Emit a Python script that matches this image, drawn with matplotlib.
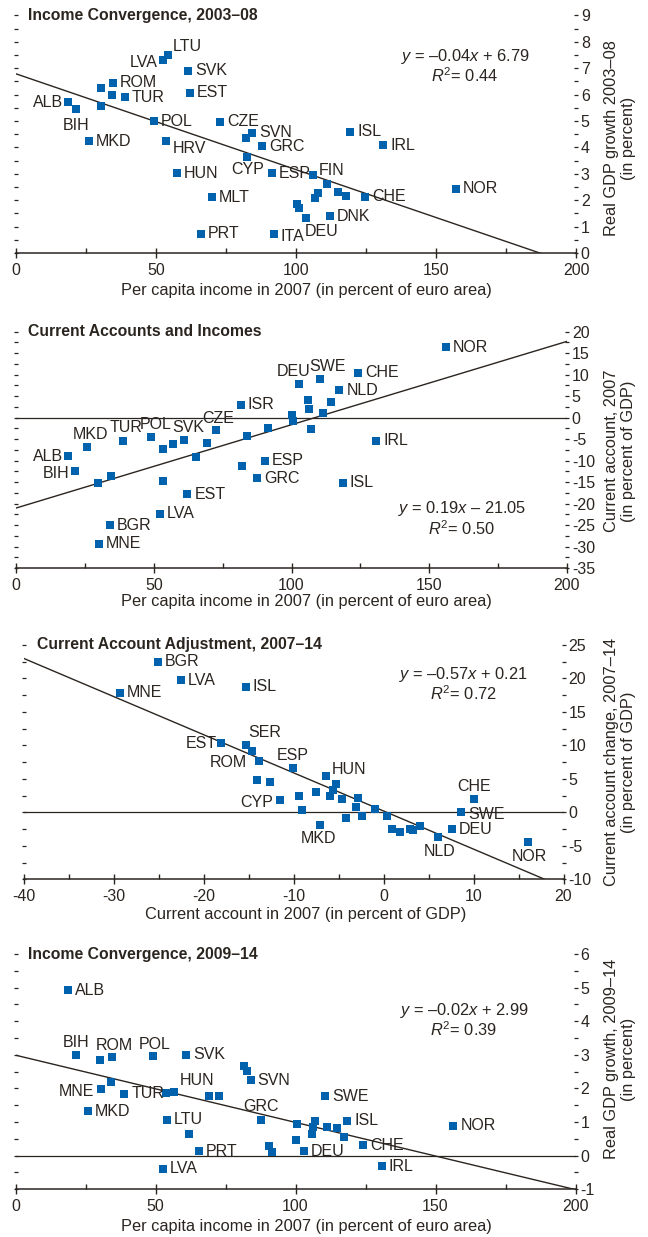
import matplotlib
matplotlib.use('Agg')
import matplotlib.pyplot as plt
from matplotlib.ticker import MultipleLocator
import numpy as np


# Fonts and colours
plt.rcParams['font.family'] = ['Liberation Sans', 'DejaVu Sans']
plt.rcParams['mathtext.fontset'] = 'custom'
plt.rcParams['mathtext.rm'] = 'Liberation Sans'
plt.rcParams['mathtext.it'] = 'Liberation Sans:italic'
plt.rcParams['axes.unicode_minus'] = False

ink = '#2b2520'
blue = '#0062ac'
W, H = 648, 1237
fs_lab = 11.5    # country labels
fs_tick = 11.5
fs_text = 11.8   # axis titles and fit equations
fs_title = 11.3


# Income convergence, 2003-08
ic1_x = [52.5, 54.3, 61.4, 34.6, 30.2, 34.2, 38.9, 62.1, 18.6, 21.4, 30.2, 49.2, 72.9,
         84.3, 82.1, 88.0, 26.1, 53.5, 82.4, 57.4, 91.3, 106.2, 70.0, 66.0, 92.1,
         100.4, 101.0, 103.6, 111.0, 108.0, 106.8, 115.1, 117.9, 124.6, 112.1,
         119.3, 131.2, 157.1]
ic1_y = [7.30, 7.50, 6.90, 6.45, 6.26, 6.00, 5.90, 6.07, 5.73, 5.45, 5.57, 5.00, 4.97,
         4.55, 4.35, 4.05, 4.24, 4.24, 3.64, 3.03, 3.03, 2.96, 2.12, 0.72, 0.72,
         1.85, 1.70, 1.34, 2.60, 2.28, 2.07, 2.32, 2.16, 2.13, 1.40,
         4.60, 4.09, 2.44]
ic1_lab = ['LVA', 'LTU', 'SVK', 'ROM', '', '', 'TUR', 'EST', 'ALB', 'BIH', '', 'POL', 'CZE',
           'SVN', '', 'GRC', 'MKD', 'HRV', 'CYP', 'HUN', 'ESP', 'FIN', 'MLT', 'PRT', 'ITA',
           '', '', 'DEU', '', '', '', '', '', 'CHE', 'DNK',
           'ISL', 'IRL', 'NOR']
ic1_fit = (-0.0363, 6.79, 0.44)

# Current accounts and incomes, 2007
ca_x = [102.7, 110.3, 106.1, 106.5, 114.2, 81.6, 100.1, 100.4, 111.3, 107.0, 91.6, 83.7,
        72.6, 69.2, 65.2, 61.0, 56.9, 53.2, 49.0, 38.7, 25.6, 18.8, 21.4, 29.9, 34.4,
        53.5, 81.9, 90.4, 87.4, 62.2, 52.3, 34.1, 30.2, 156.1, 124.3, 117.4, 130.7, 118.6]
ca_y = [7.8, 9.0, 4.1, 2.0, 3.6, 3.0, 0.7, -0.9, 1.1, -2.7, -2.3, -4.2,
        -2.9, -6.0, -9.2, -5.2, -6.1, -7.3, -4.6, -5.5, -6.9, -9.0, -12.5, -15.2, -13.7,
        -14.7, -11.2, -10.0, -14.1, -17.8, -22.4, -25.1, -29.3, 16.4, 10.4, 6.4, -5.4, -15.2]
ca_lab = ['DEU', 'SWE', '', '', '', 'ISR', '', '', '', '', '', '',
          'CZE', '', '', 'SVK', '', '', 'POL', 'TUR', 'MKD', 'ALB', 'BIH', '', '',
          '', '', 'ESP', 'GRC', 'EST', 'LVA', 'BGR', 'MNE', 'NOR', 'CHE', 'NLD', 'IRL', 'ISL']
ca_fit = (0.194, -21.05, 0.50)

# Current account adjustment, 2007-14
adj_x = [-25.1, -22.5, -15.3, -29.3, -18.1, -15.3, -14.6, -13.8, -10.1, -14.1, -12.6,
         -11.5, -9.4, -9.1, -7.5, -7.1, -6.4, -5.3, -5.6, -6.0, -4.6, -2.8, -3.1, -4.2,
         -2.4, -0.9, 0.4, 0.9, 1.8, 2.9, 3.3, 4.1, 6.1, 7.6, 8.6, 10.1, 16.0]
adj_y = [22.5, 19.7, 18.8, 17.9, 10.4, 10.1, 9.1, 7.6, 6.6, 4.9, 4.5,
         1.8, 2.5, 0.3, 3.1, -1.9, 5.5, 4.3, 3.4, 2.4, 2.0, 2.2, 0.8, -0.9,
         -0.6, 0.5, -0.5, -2.5, -2.9, -2.5, -2.7, -2.0, -3.7, -2.5, 0.1, 2.0, -4.4]
adj_lab = ['BGR', 'LVA', 'ISL', 'MNE', 'EST', 'SER', '', 'ROM', 'ESP', '', '',
           'CYP', '', '', '', 'MKD', 'HUN', '', '', '', '', '', '', '',
           '', '', '', '', '', '', '', '', 'NLD', 'DEU', 'SWE', 'CHE', 'NOR']
adj_fit = (-0.57, 0.21, 0.72)

# Income convergence, 2009-14
ic2_x = [18.9, 21.6, 30.2, 34.4, 49.0, 60.9, 34.1, 30.4, 38.8, 25.8, 53.6, 56.7, 69.2,
         72.8, 81.7, 82.6, 84.0, 54.0, 62.0, 65.5, 52.6, 87.6, 90.6, 91.7, 100.4, 100.1,
         103.0, 107.0, 106.1, 105.8, 110.5, 111.4, 114.7, 118.5, 117.3, 124.2, 130.8, 156.4]
ic2_y = [4.92, 3.00, 2.84, 2.94, 2.98, 3.00, 2.18, 1.98, 1.84, 1.32, 1.85, 1.90, 1.77,
         1.77, 2.66, 2.51, 2.24, 1.07, 0.65, 0.13, -0.39, 1.05, 0.30, 0.11, 0.93, 0.46,
         0.13, 1.03, 0.85, 0.66, 1.77, 0.85, 0.82, 1.04, 0.56, 0.31, -0.32, 0.89]
ic2_lab = ['ALB', 'BIH', '', 'ROM', 'POL', 'SVK', '', 'MNE', 'TUR', 'MKD', '', 'HUN', '',
           '', '', '', 'SVN', 'LTU', '', 'PRT', 'LVA', 'GRC', '', '', '', '',
           'DEU', '', '', '', 'SWE', '', '', 'ISL', '', 'CHE', 'IRL', 'NOR']
ic2_fit = (-0.02, 2.99, 0.39)


# Label placement: (dx px, dy px downward, ha); anything missing goes to the right
off_ic1 = {'LTU': (5, -9, 'left'), 'LVA': (-5, 2, 'right'), 'ALB': (-5, 1, 'right'),
           'BIH': (0, 16, 'center'), 'HRV': (7, 7, 'left'), 'CYP': (1, 13, 'center'),
           'FIN': (5, -4, 'left'), 'ITA': (7, 3, 'left'), 'DEU': (-1, 14, 'left')}
off_ca = {'DEU': (-5, -13, 'center'), 'SWE': (8, -12, 'center'), 'CZE': (2, -12, 'center'),
          'SVK': (4, -12, 'center'), 'POL': (5, -13, 'center'), 'TUR': (3, -14, 'center'),
          'MKD': (4, -13, 'center'), 'ALB': (-5, 0, 'right'), 'BIH': (-6, 2, 'right')}
off_adj = {'EST': (-4, 1, 'right'), 'SER': (2, -12, 'left'), 'ROM': (-12, 1, 'right'),
           'ESP': (0, -13, 'center'), 'CYP': (-7, 2, 'right'), 'MKD': (-1, 13, 'center'),
           'HUN': (6, -6, 'left'), 'CHE': (0, -12, 'center'), 'SWE': (7, 3, 'left'),
           'NLD': (1, 14, 'center'), 'NOR': (2, 15, 'center')}
off_ic2 = {'BIH': (0, -12, 'center'), 'ROM': (3, -11, 'center'), 'POL': (2, -11, 'center'),
           'MNE': (-6, 2, 'right'), 'HUN': (5, -11, 'left'), 'GRC': (0, -14, 'center')}


def fmt_fit(slope, icpt):
    s = f'{slope:.2f}'.replace('-', '–')
    sign = '+' if icpt >= 0 else '–'
    return r'$\mathit{y}$ = ' + s + r'$\mathit{x}$ ' + f'{sign} {abs(icpt):.2f}'


def panel(box, xs, ys, labs, offs, fit, xlim, ylim, xstep, ystep,
          title, title_x, xlabel, xlabel_xy, ylabel, ylabel_xy, eq_xy, zero_line):
    l, r, t, b = box
    ax = fig.add_axes([l / W, 1 - b / H, (r - l) / W, (b - t) / H])
    ax.set_xlim(*xlim)
    ax.set_ylim(*ylim)
    for side in ['top', 'left', 'right']:
        ax.spines[side].set_visible(False)
    ax.spines['bottom'].set_color(ink)
    ax.spines['bottom'].set_linewidth(1.1)

    ax.xaxis.set_major_locator(MultipleLocator(xstep))
    ax.xaxis.set_minor_locator(MultipleLocator(xstep / 2))
    ax.yaxis.set_major_locator(MultipleLocator(ystep))
    ax.yaxis.set_minor_locator(MultipleLocator(ystep / 2))
    ax.tick_params(axis='x', which='major', direction='inout', length=7, width=1,
                   color=ink, labelcolor=ink, labelsize=fs_tick, pad=3.5)
    ax.tick_params(axis='x', which='minor', direction='in', length=3.5, width=1, color=ink)
    ax.tick_params(axis='y', which='both', direction='inout', length=3, width=0.9,
                   color=ink, left=True, right=True, labelleft=False, labelright=True)
    ax.tick_params(axis='y', which='major', labelcolor=ink, labelsize=fs_tick, pad=2)

    if zero_line:
        ax.axhline(0, color=ink, lw=0.9, zorder=1)
    slope, icpt, r2 = fit
    fx = np.array(xlim, dtype=float)
    ax.plot(fx, icpt + slope * fx, color=ink, lw=1.0, zorder=2)
    ax.scatter(xs, ys, marker='s', s=38, color=blue, linewidths=0, zorder=3)

    for x, y, lab in zip(xs, ys, labs):
        if not lab:
            continue
        dx, dy, ha = offs.get(lab, (7, 0, 'left'))
        ax.annotate(lab, (x, y), xytext=(dx, -dy), textcoords='offset pixels',
                    ha=ha, va='center', fontsize=fs_lab, color=ink, zorder=4)

    ax.text((title_x - l) / (r - l), 1.0, title, transform=ax.transAxes, ha='left',
            va='center', fontsize=fs_title, fontweight='bold', color=ink)
    fig.text(xlabel_xy[0] / W, 1 - xlabel_xy[1] / H, xlabel, ha='center', va='center',
             fontsize=fs_text, color=ink)
    fig.text(ylabel_xy[0] / W, 1 - ylabel_xy[1] / H, ylabel, ha='center', va='center',
             rotation=90, fontsize=fs_text, color=ink, linespacing=1.1)
    fig.text(eq_xy[0] / W, 1 - eq_xy[1] / H, fmt_fit(slope, icpt), ha='center',
             va='center', fontsize=fs_text, color=ink)
    fig.text(eq_xy[0] / W, 1 - (eq_xy[1] + 20) / H, r'$\mathit{R}^2$= ' + f'{r2:.2f}',
             ha='center', va='center', fontsize=fs_text, color=ink)
    return ax


fig = plt.figure(figsize=(W / 100, H / 100), dpi=100)
fig.patch.set_facecolor('white')

per_cap = 'Per capita income in 2007 (in percent of euro area)'

panel((16, 576, 15.5, 253), ic1_x, ic1_y, ic1_lab, off_ic1, ic1_fit,
      (0, 200), (0, 9), 50, 1,
      'Income Convergence, 2003–08', 28, per_cap, (306, 290),
      'Real GDP growth 2003–08\n(in percent)', (620, 138), (465, 56), False)

panel((16, 567, 331.7, 568), ca_x, ca_y, ca_lab, off_ca, ca_fit,
      (0, 200), (-35, 20), 50, 5,
      'Current Accounts and Incomes', 28, per_cap, (306, 601),
      'Current account, 2007\n(in percent of GDP)', (620, 451), (462, 509), True)

panel((23.5, 563.5, 645, 879.3), adj_x, adj_y, adj_lab, off_adj, adj_fit,
      (-40, 20), (-10, 25), 10, 5,
      'Current Account Adjustment, 2007–14', 37, 'Current account in 2007 (in percent of GDP)',
      (306, 915), 'Current account change, 2007–14\n(in percent of GDP)', (620, 762),
      (463, 674), True)

panel((15.5, 575.5, 954, 1189.3), ic2_x, ic2_y, ic2_lab, off_ic2, ic2_fit,
      (0, 200), (-1, 6), 50, 1,
      'Income Convergence, 2009–14', 28, per_cap, (306, 1226),
      'Real GDP growth, 2009–14\n(in percent)', (620, 1059), (464, 1010), True)

fig.savefig('out.png', dpi=100, facecolor='white')
